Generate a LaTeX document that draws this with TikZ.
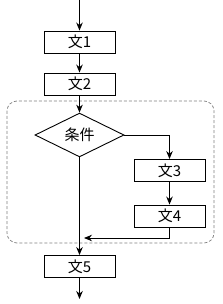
\documentclass[tikz,border=0pt]{standalone}
\usepackage{fontspec}
\setmainfont{Noto Sans CJK JP}
\usetikzlibrary{shapes.geometric,arrows.meta}
\begin{document}
\begin{tikzpicture}[x=1pt,y=-1pt,
  stepbox/.style={draw,line width=0.9pt,minimum width=71pt,minimum height=22pt,inner sep=0pt,font=\fontsize{15}{15}\selectfont},
  cond/.style={draw,diamond,line width=0.9pt,minimum width=89pt,minimum height=40pt,inner sep=0pt,font=\fontsize{15}{15}\selectfont},
  flow/.style={line width=0.9pt,-{Stealth[length=8pt,width=6.5pt]}},
  region/.style={draw=gray,dash pattern=on 3pt off 2pt,line width=0.7pt,rounded corners=10pt}]
\useasboundingbox (0,0) rectangle (222,304);
\draw[region] (7,101) rectangle (214,243);
\coordinate (top) at (79.5,0);
\node[stepbox] (s1) at (79.5,42) {文1};
\node[stepbox] (s2) at (79.5,84) {文2};
\node[cond] (c) at (79.5,135) {条件};
\node[stepbox] (s3) at (169.5,170.5) {文3};
\node[stepbox] (s4) at (169.5,216) {文4};
\node[stepbox] (s5) at (79.5,266.5) {文5};
\coordinate (bot) at (79.5,299);
\coordinate (j) at (84,238);
\draw[flow] (top) -- (s1);
\draw[flow] (s1) -- (s2);
\draw[flow] (s2) -- (c);
\draw[flow] (c.east) -| (s3.north);
\draw[flow] (s3) -- (s4);
\draw[flow] (s4.south) |- (j);
\draw[flow] (c.south) -- (s5.north);
\draw[flow] (s5) -- (bot);
\end{tikzpicture}
\end{document}
